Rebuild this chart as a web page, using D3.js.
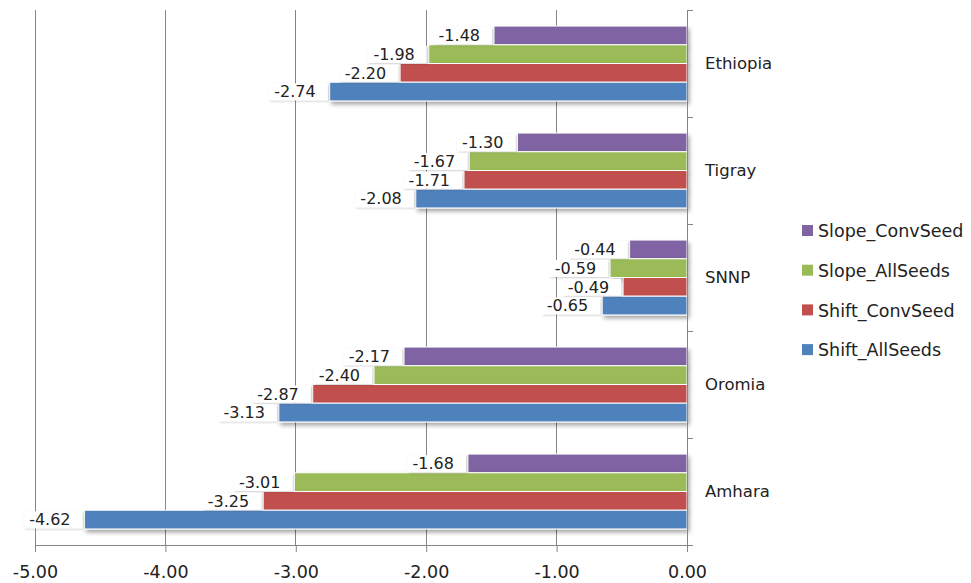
<!DOCTYPE html>
<html>
<head>
<meta charset="utf-8">
<script src="https://cdn.jsdelivr.net/npm/d3@7"></script>
<style>
  body { margin: 0; background: #fff; }
  text { font-family: "DejaVu Sans", Verdana, sans-serif; fill: #222; }
</style>
</head>
<body>
<div id="content"></div>
<script>
const regions = ["Ethiopia", "Tigray", "SNNP", "Oromia", "Amhara"];
const seriesNames = ["Slope_ConvSeed", "Slope_AllSeeds", "Shift_ConvSeed", "Shift_AllSeeds"];
const seriesColors = ["#8064a2", "#9bbb59", "#c0504d", "#4f81bd"];
const slopeConvSeed = [-1.48, -1.30, -0.44, -2.17, -1.68];
const slopeAllSeeds = [-1.98, -1.67, -0.59, -2.40, -3.01];
const shiftConvSeed = [-2.20, -1.71, -0.49, -2.87, -3.25];
const shiftAllSeeds = [-2.74, -2.08, -0.65, -3.13, -4.62];
const xTicks = [-5, -4, -3, -2, -1, 0];

const seriesValues = [slopeConvSeed, slopeAllSeeds, shiftConvSeed, shiftAllSeeds];
const data = regions.map((r, i) => ({
  region: r,
  values: seriesNames.map((s, j) => ({ key: s, value: seriesValues[j][i] })),
}));

// plain hyphen instead of unicode minus
const fmt = (v) => d3.format(".2f")(v).replace("\u2212", "-");

const W = 971, H = 583;
const svg = d3.select("#content").append("svg").attr("width", W).attr("height", H);

const defs = svg.append("defs");
const f = defs.append("filter").attr("id", "shadow")
  .attr("x", "-5%").attr("y", "-30%").attr("width", "115%").attr("height", "180%");
f.append("feDropShadow").attr("dx", 2).attr("dy", 3).attr("stdDeviation", 2)
  .attr("flood-color", "#000").attr("flood-opacity", 0.35);
const f2 = defs.append("filter").attr("id", "lblshadow")
  .attr("x", "-20%").attr("y", "-30%").attr("width", "150%").attr("height", "180%");
f2.append("feDropShadow").attr("dx", 1).attr("dy", 1).attr("stdDeviation", 1)
  .attr("flood-color", "#000").attr("flood-opacity", 0.2);

const x = d3.scaleLinear().domain([-5, 0]).range([35, 687]);
const y = d3.scaleBand().domain(regions).range([10, 545]).paddingInner(0.3).paddingOuter(0.15);
const ySub = d3.scaleBand().domain(seriesNames).range([0, y.bandwidth()]);
const color = d3.scaleOrdinal().domain(seriesNames).range(seriesColors);

// gridlines
svg.append("g").selectAll("line").data(xTicks.slice(0, -1)).enter().append("line")
  .attr("x1", (d) => x(d)).attr("x2", (d) => x(d))
  .attr("y1", 10).attr("y2", 545)
  .attr("stroke", "#868686").attr("stroke-width", 1).attr("shape-rendering", "crispEdges");

// x axis
const xAxis = svg.append("g").attr("transform", "translate(0,545)")
  .call(d3.axisBottom(x).tickValues(xTicks).tickFormat(fmt).tickSize(7).tickSizeOuter(0));
xAxis.select(".domain").attr("stroke", "#868686");
xAxis.selectAll(".tick line").attr("stroke", "#868686");
xAxis.selectAll("text").attr("font-size", 17.5).attr("dy", "1.3em")
  .attr("font-family", "DejaVu Sans, Verdana, sans-serif").attr("fill", "#222");

// bars
const groups = svg.append("g").selectAll("g").data(data).enter().append("g")
  .attr("transform", (d) => `translate(0,${y(d.region)})`);

groups.selectAll("rect").data((d) => d.values).enter().append("rect")
  .attr("x", (d) => x(d.value))
  .attr("y", (d) => ySub(d.key))
  .attr("width", (d) => x(0) - x(d.value))
  .attr("height", ySub.bandwidth())
  .attr("fill", (d) => color(d.key))
  .attr("stroke", "#fff").attr("stroke-width", 1)
  .attr("filter", "url(#shadow)");

// y axis (right side at zero)
svg.append("line").attr("x1", x(0)).attr("x2", x(0)).attr("y1", 10).attr("y2", 545)
  .attr("stroke", "#868686").attr("shape-rendering", "crispEdges");
const bounds = regions.map((r) => y(r) - y.step() * 0.15).concat([545]);
svg.append("g").selectAll("line").data(bounds).enter().append("line")
  .attr("x1", x(0)).attr("x2", x(0) + 6)
  .attr("y1", (d) => d).attr("y2", (d) => d)
  .attr("stroke", "#868686").attr("shape-rendering", "crispEdges");

// category labels
svg.append("g").selectAll("text").data(regions).enter().append("text")
  .attr("x", 705).attr("y", (d) => y(d) + y.bandwidth() / 2)
  .attr("dy", "0.35em").attr("font-size", 16.5).text((d) => d);

// data labels
const labels = groups.selectAll("g.lbl").data((d) => d.values).enter().append("g").attr("class", "lbl");
labels.each(function (d) {
  const g = d3.select(this);
  const bg = g.append("rect").attr("fill", "#fff").attr("filter", "url(#lblshadow)");
  const t = g.append("text")
    .attr("x", x(d.value) - 14)
    .attr("y", ySub(d.key) + ySub.bandwidth() / 2)
    .attr("dy", "0.36em").attr("text-anchor", "end").attr("font-size", 16)
    .text(fmt(d.value));
  const b = t.node().getBBox();
  bg.attr("x", b.x - 5).attr("y", b.y + 1)
    .attr("width", x(d.value) - 2 - (b.x - 5)).attr("height", b.height - 2);
});

// legend
const legend = svg.append("g").selectAll("g").data(seriesNames).enter().append("g")
  .attr("transform", (d, i) => `translate(802,${231 + i * 39.7})`);
legend.append("rect").attr("x", 0).attr("y", -6).attr("width", 11).attr("height", 11)
  .attr("fill", (d) => color(d));
legend.append("text").attr("x", 16).attr("dy", "0.35em").attr("font-size", 17.5).text((d) => d);
</script>
</body>
</html>
